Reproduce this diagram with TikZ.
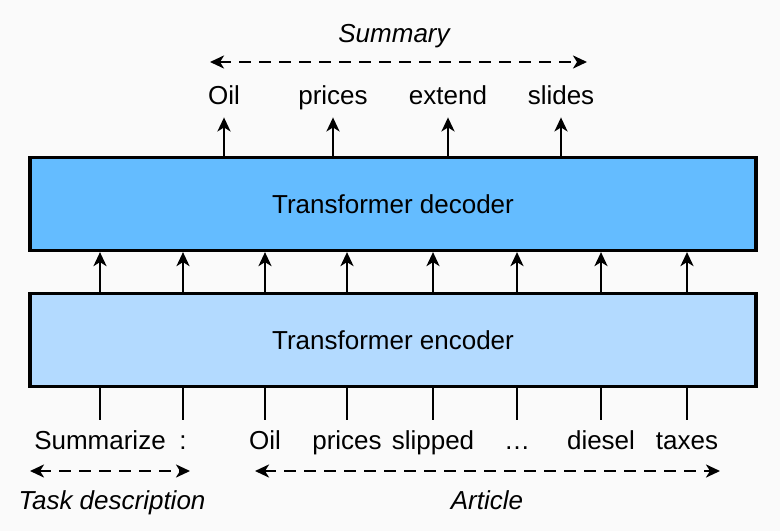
\documentclass[tikz,border=0pt]{standalone}
\usepackage{fontspec}
\setmainfont{Liberation Sans}
\usetikzlibrary{positioning,arrows.meta,calc}
\definecolor{decfill}{HTML}{64BCFF}
\definecolor{encfill}{HTML}{B3DAFF}
\definecolor{pagebg}{HTML}{FAFAFA}

\begin{document}
\begin{tikzpicture}[
    x=0.5pt, y=-0.5pt,
    blk/.style={draw, line width=1.6pt, minimum width=363pt, minimum height=46.5pt, inner sep=0pt, font=\fontsize{13}{15}\selectfont},
    srcword/.style={anchor=base, font=\fontsize{13}{15}\selectfont, text height=9.5pt, text depth=3pt, inner xsep=0pt, inner ysep=5pt},
    sumword/.style={anchor=base, font=\fontsize{13}{15}\selectfont, text height=9.5pt, text depth=3pt, inner xsep=0pt, inner ysep=3.5pt},
    grp/.style={anchor=base, font=\fontsize{13}{15}\selectfont\itshape},
    link/.style={line width=1.4pt},
    flow/.style={line width=1.4pt, -{Stealth[length=7pt, width=6.5pt, inset=2pt]}},
    span/.style={line width=1.4pt, dash pattern=on 6pt off 4pt, {Stealth[length=7pt, width=6.5pt, inset=2pt]}-{Stealth[length=7pt, width=6.5pt, inset=2pt]}}]
    \fill[pagebg] (0,0) rectangle (780,531);
    \useasboundingbox (0,0) rectangle (780,531);
    % Stacks
    \node[blk, fill=decfill] (dec) at (393,204) {Transformer decoder};
    \node[blk, fill=encfill] (enc) at (393,340) {Transformer encoder};
    % Input tokens
    \node[srcword] (summ) at (100,449) {Summarize};
    \node[srcword] (colon) at (183,449) {:};
    \node[srcword] (oil) at (265,449) {Oil};
    \node[srcword] (prices) at (347,449) {prices};
    \node[srcword] (slipped) at (433,449) {slipped};
    \node[srcword] (dots) at (517,449) {\ldots};
    \node[srcword] (diesel) at (601,449) {diesel};
    \node[srcword] (taxes) at (687,449) {taxes};
    % Output tokens
    \node[sumword] (oilout) at (224,104) {Oil};
    \node[sumword] (pricesout) at (333,104) {prices};
    \node[sumword] (extendout) at (448,104) {extend};
    \node[sumword] (slidesout) at (561,104) {slides};
    % Group labels
    \node[grp] (summary) at (394,42) {Summary};
    \node[grp] (task) at (112,509) {Task description};
    \node[grp] (article) at (487,509) {Article};
    \coordinate (sumL) at (210,62);
    \coordinate (sumR) at (587,62);
    \coordinate (taskL) at (30,471);
    \coordinate (taskR) at (190,471);
    \coordinate (artL) at (255,471);
    \coordinate (artR) at (720,471);
    % edges
    \draw[link] (summ.north) -- (enc.south -| summ.north);
    \draw[link] (colon.north) -- (enc.south -| colon.north);
    \draw[link] (oil.north) -- (enc.south -| oil.north);
    \draw[link] (prices.north) -- (enc.south -| prices.north);
    \draw[link] (slipped.north) -- (enc.south -| slipped.north);
    \draw[link] (dots.north) -- (enc.south -| dots.north);
    \draw[link] (diesel.north) -- (enc.south -| diesel.north);
    \draw[link] (taxes.north) -- (enc.south -| taxes.north);
    \draw[flow] (enc.north -| summ.north) -- (dec.south -| summ.north);
    \draw[flow] (enc.north -| colon.north) -- (dec.south -| colon.north);
    \draw[flow] (enc.north -| oil.north) -- (dec.south -| oil.north);
    \draw[flow] (enc.north -| prices.north) -- (dec.south -| prices.north);
    \draw[flow] (enc.north -| slipped.north) -- (dec.south -| slipped.north);
    \draw[flow] (enc.north -| dots.north) -- (dec.south -| dots.north);
    \draw[flow] (enc.north -| diesel.north) -- (dec.south -| diesel.north);
    \draw[flow] (enc.north -| taxes.north) -- (dec.south -| taxes.north);
    \draw[flow] (dec.north -| oilout.south) -- (oilout.south);
    \draw[flow] (dec.north -| pricesout.south) -- (pricesout.south);
    \draw[flow] (dec.north -| extendout.south) -- (extendout.south);
    \draw[flow] (dec.north -| slidesout.south) -- (slidesout.south);
    \draw[span] (sumL) -- (sumR);
    \draw[span] (taskL) -- (taskR);
    \draw[span] (artL) -- (artR);
\end{tikzpicture}
\end{document}
